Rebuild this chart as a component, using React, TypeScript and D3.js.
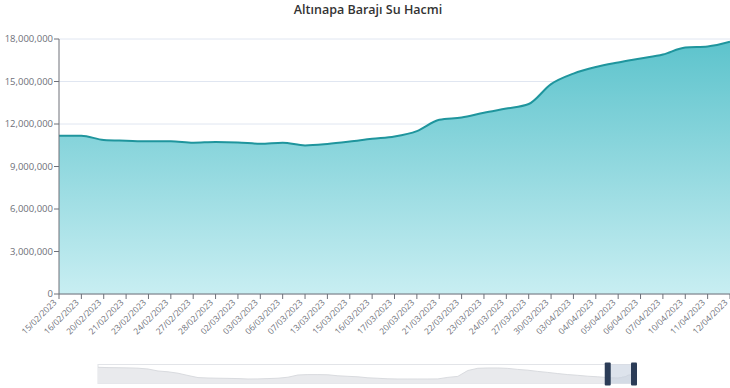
import React from "react";
import * as d3 from "d3";

const title = "Altınapa Barajı Su Hacmi";

const dates = [
  "15/02/2023", "16/02/2023", "20/02/2023", "21/02/2023", "23/02/2023", "24/02/2023",
  "27/02/2023", "28/02/2023", "02/03/2023", "03/03/2023", "06/03/2023", "07/03/2023",
  "13/03/2023", "15/03/2023", "16/03/2023", "17/03/2023", "20/03/2023", "21/03/2023",
  "22/03/2023", "23/03/2023", "24/03/2023", "27/03/2023", "30/03/2023", "03/04/2023",
  "04/04/2023", "05/04/2023", "06/04/2023", "07/04/2023", "10/04/2023", "11/04/2023",
  "12/04/2023",
];

const volumes = [
  11170000, 11170000, 10870000, 10820000, 10780000, 10780000,
  10680000, 10730000, 10700000, 10600000, 10680000, 10490000,
  10590000, 10760000, 10960000, 11120000, 11500000, 12300000,
  12460000, 12800000, 13090000, 13410000, 14820000, 15560000,
  16020000, 16340000, 16620000, 16900000, 17400000, 17470000,
  17800000,
];

const yTicks = [0, 3000000, 6000000, 9000000, 12000000, 15000000, 18000000];

// Overview (data zoom preview) of the earlier history, sampled evenly, in million m³
const historyPreview = [
  30.7, 30.1, 29.9, 29.6, 29.0, 27.5, 23.7, 22.2, 19.5, 15.2,
  11.2, 10.4, 10.0, 9.7, 9.3, 8.5, 8.7, 9.3, 10.0, 11.9,
  16.1, 16.9, 16.9, 16.5, 14.6, 13.6, 12.7, 10.8, 9.9, 8.9,
  8.5, 8.5, 8.5, 8.5, 8.7, 11.6, 13.5, 24.6, 28.8, 29.4,
  29.4, 28.6, 26.7, 25.2, 22.9, 21.0, 18.8, 16.9, 15.5, 13.8,
  12.7,
].map((v) => v * 1000000);

const zoomStart = 0.951;
const zoomEnd = 1.0;

export default function App() {
  const W = 730;
  const H = 388;
  const left = 59;
  const right = 730;
  const top = 39;
  const bottom = 294;

  const x = d3.scalePoint<string>().domain(dates).range([left, right]);
  const y = d3.scaleLinear().domain([0, 18000000]).range([bottom, top]);

  const line = d3
    .line<number>()
    .x((_, i) => x(dates[i]) as number)
    .y((d) => y(d))
    .curve(d3.curveMonotoneX);
  const area = d3
    .area<number>()
    .x((_, i) => x(dates[i]) as number)
    .y0(bottom)
    .y1((d) => y(d))
    .curve(d3.curveMonotoneX);

  const fmt = d3.format(",");
  const axisColor = "#6E7079";
  const font = "'Open Sans', sans-serif";

  // slider
  const sLeft = 98;
  const sRight = 634;
  const sTop = 364.5;
  const sBottom = 383.5;
  const sx = d3.scaleLinear().domain([0, 1]).range([sLeft, sRight]);
  const sy = d3.scaleLinear().domain([0, 36000000]).range([sBottom, sTop]);
  const hx = d3
    .scaleLinear()
    .domain([0, historyPreview.length])
    .range([sx(0), sx(zoomStart)]);
  const wx = d3.scalePoint<string>().domain(dates).range([sx(zoomStart), sx(zoomEnd)]);
  const previewPts: [number, number][] = [
    ...historyPreview.map((v, i) => [hx(i), sy(v)] as [number, number]),
    ...volumes.map((v, i) => [wx(dates[i]) as number, sy(v)] as [number, number]),
  ];
  const pArea = d3
    .area<[number, number]>()
    .x((d) => d[0])
    .y0(sBottom)
    .y1((d) => d[1]);
  const pLine = d3
    .line<[number, number]>()
    .x((d) => d[0])
    .y((d) => d[1]);

  const handleW = 6;

  return (
    <svg
      width={W}
      height={H}
      style={{ position: "absolute", left: 0, top: 0, display: "block", background: "#fff" }}
    >
      <defs>
        <linearGradient id="areaGrad" gradientUnits="userSpaceOnUse" x1="0" y1={top} x2="0" y2={bottom}>
          <stop offset="0%" stopColor="#5cc3cc" />
          <stop offset="100%" stopColor="#c8eef2" />
        </linearGradient>
      </defs>

      <text
        x={368}
        y={14}
        textAnchor="middle"
        fontFamily={font}
        fontWeight={600}
        fontSize={12.5}
        fill="#333"
      >
        {title}
      </text>

      {/* grid */}
      {yTicks.map((t) => (
        <line key={"g" + t} x1={left} x2={right} y1={y(t)} y2={y(t)} stroke="#E0E6F1" strokeWidth={1} />
      ))}

      {/* area and line */}
      <path d={area(volumes) || ""} fill="url(#areaGrad)" />
      <path d={line(volumes) || ""} fill="none" stroke="#1f959d" strokeWidth={2} />

      {/* y axis */}
      <line x1={left} x2={left} y1={top} y2={bottom} stroke={axisColor} strokeWidth={1} />
      {yTicks.map((t) => (
        <g key={"y" + t}>
          <line x1={left - 5} x2={left} y1={y(t)} y2={y(t)} stroke={axisColor} />
          <text
            x={left - 6}
            y={y(t)}
            dy="0.35em"
            textAnchor="end"
            fontFamily={font}
            fontSize={9.5}
            fill={axisColor}
          >
            {fmt(t)}
          </text>
        </g>
      ))}

      {/* x axis */}
      <line x1={left} x2={right} y1={bottom} y2={bottom} stroke={axisColor} strokeWidth={1} />
      {dates.map((d) => {
        const px = x(d) as number;
        return (
          <g key={"x" + d}>
            <line x1={px} x2={px} y1={bottom} y2={bottom + 5} stroke={axisColor} />
            <text
              transform={`translate(${px - 4},${bottom + 7}) rotate(-45)`}
              textAnchor="end"
              dy="0.35em"
              fontFamily={font}
              fontSize={8.5}
              fill={axisColor}
            >
              {d}
            </text>
          </g>
        );
      })}

      {/* data zoom slider */}
      <rect x={sLeft} y={sTop} width={sRight - sLeft} height={sBottom - sTop} fill="none" stroke="#e2e4e8" />
      <path d={pArea(previewPts) || ""} fill="#e9eaed" />
      <path d={pLine(previewPts) || ""} fill="none" stroke="#d9dbdf" strokeWidth={1} />
      <rect
        x={sx(zoomStart)}
        y={sTop}
        width={sx(zoomEnd) - sx(zoomStart)}
        height={sBottom - sTop}
        fill="#c7d1e0"
        fillOpacity={0.6}
      />
      {[zoomStart, zoomEnd].map((p) => (
        <rect
          key={"h" + p}
          x={sx(p) - handleW / 2}
          y={sTop - 2}
          width={handleW}
          height={sBottom - sTop + 4}
          rx={1}
          fill="#2b3c57"
        />
      ))}
    </svg>
  );
}
